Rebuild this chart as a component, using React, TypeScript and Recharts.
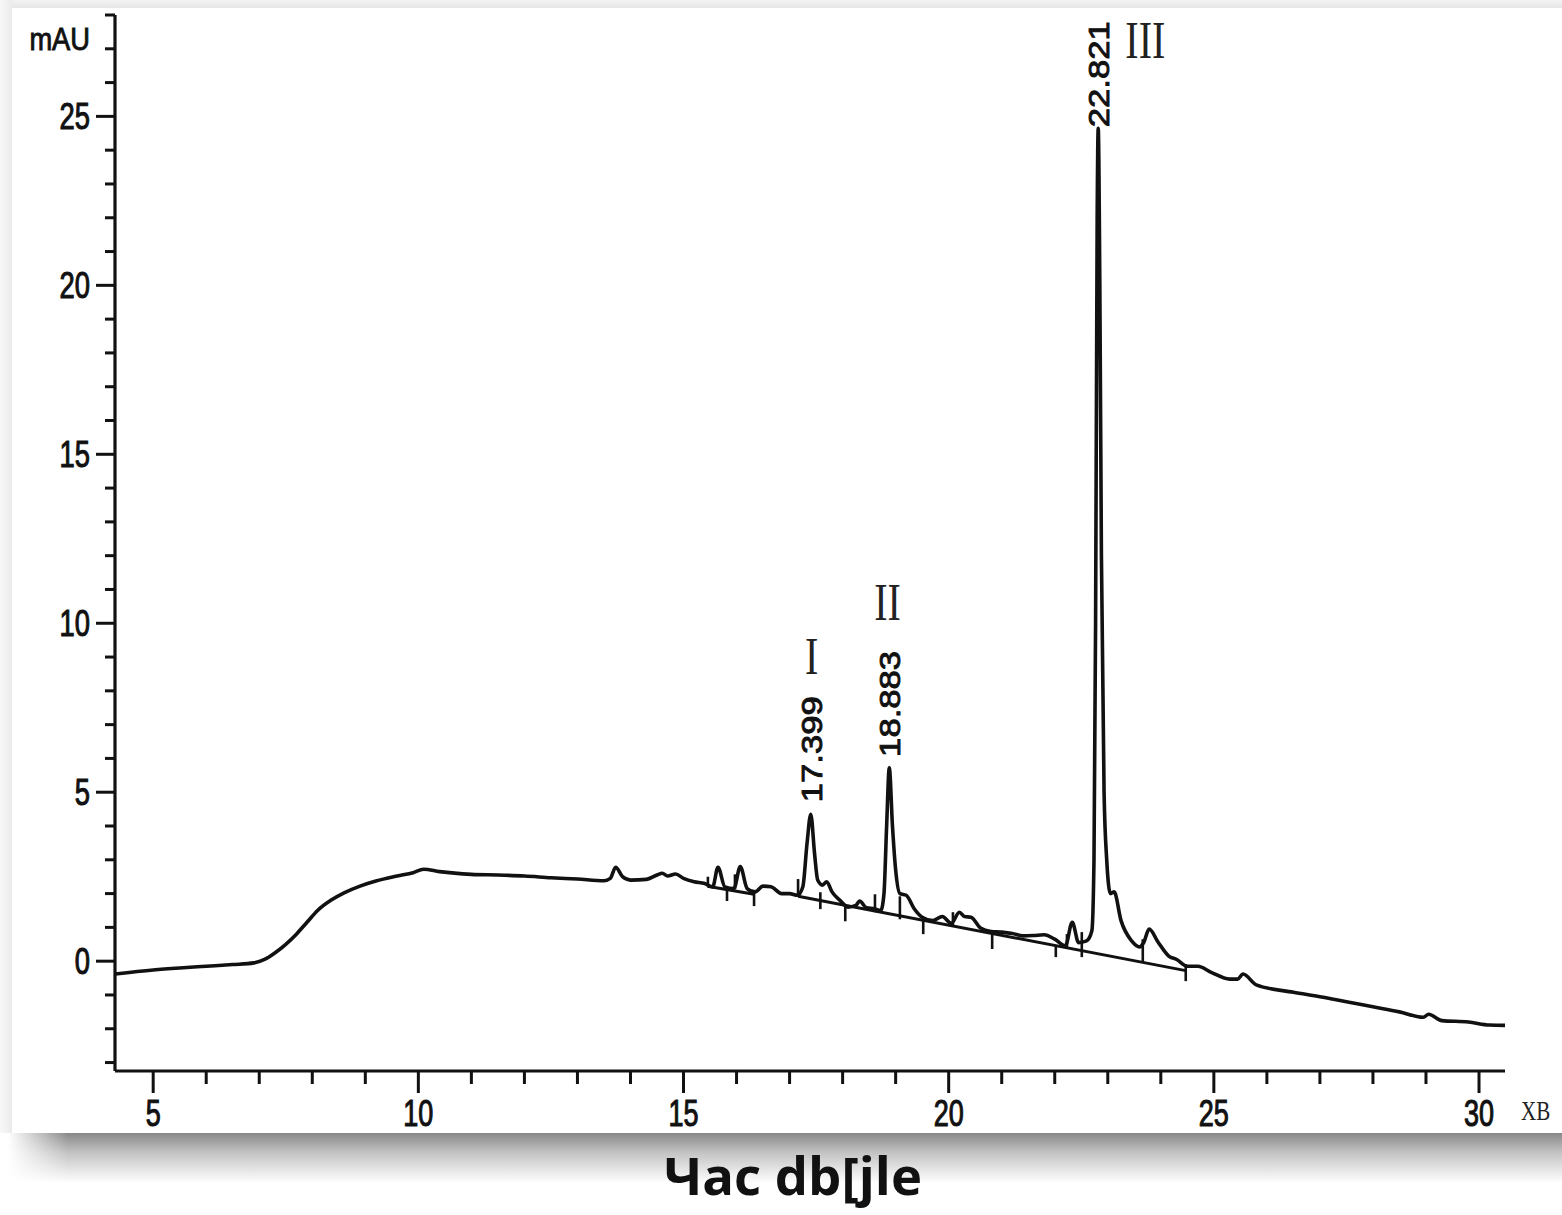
import React from 'react';
import { LineChart, Line, XAxis, YAxis, ReferenceLine, ReferenceDot } from 'recharts';

// Chromatogram trace: retention time (min) and absorbance (mAU)
const retention = [
  4.28, 5.0, 5.5, 6.0, 6.5, 6.9, 7.1, 7.3, 7.5, 7.7, 7.9, 8.1, 8.35, 8.6, 8.9, 9.2, 9.6, 9.9, 10.1, 10.4,
  11.0, 11.5, 12.0, 12.5, 13.0, 13.5, 13.62, 13.72, 13.85, 14.0, 14.3, 14.5, 14.6, 14.7, 14.85, 15.0, 15.2,
  15.4, 15.55, 15.65, 15.78, 15.95, 16.07, 16.2, 16.35, 16.5, 16.65, 16.85, 17.0, 17.15, 17.25, 17.33, 17.4,
  17.47, 17.53, 17.62, 17.7, 17.8, 17.95, 18.1, 18.25, 18.32, 18.45, 18.6, 18.72, 18.78, 18.83, 18.88, 18.94,
  19.0, 19.08, 19.2, 19.35, 19.5, 19.7, 19.88, 20.05, 20.2, 20.3, 20.42, 20.6, 20.8, 21.0, 21.2, 21.4, 21.6,
  21.8, 22.0, 22.2, 22.33, 22.45, 22.6, 22.7, 22.74, 22.77, 22.8, 22.82, 22.85, 22.88, 22.93, 22.98, 23.05,
  23.12, 23.25, 23.45, 23.6, 23.68, 23.78, 23.95, 24.15, 24.3, 24.5, 24.7, 24.95, 25.3, 25.45, 25.55, 25.8,
  26.5, 27.0, 27.5, 28.0, 28.5, 28.95, 29.05, 29.3, 29.8, 30.2, 30.49,
];
const absorbance = [
  -0.38, -0.26, -0.2, -0.15, -0.1, -0.05, 0.05, 0.25, 0.5, 0.8, 1.15, 1.5, 1.8, 2.02, 2.22, 2.37, 2.52, 2.62, 2.72, 2.65,
  2.57, 2.55, 2.52, 2.47, 2.43, 2.38, 2.45, 2.78, 2.5, 2.4, 2.42, 2.55, 2.6, 2.52, 2.58, 2.45, 2.35,
  2.3, 2.2, 2.78, 2.2, 2.15, 2.8, 2.15, 2.05, 2.22, 2.2, 2.0, 2.0, 1.95, 2.2, 3.5, 4.35,
  3.2, 2.4, 2.25, 2.35, 2.05, 1.8, 1.6, 1.65, 1.78, 1.58, 1.55, 1.5, 2.0, 4.0, 5.72, 4.0,
  2.7, 2.0, 1.95, 1.55, 1.3, 1.2, 1.32, 1.12, 1.45, 1.32, 1.3, 0.98, 0.88, 0.86, 0.82, 0.75, 0.76,
  0.78, 0.65, 0.45, 1.15, 0.55, 0.6, 0.9, 3.0, 10, 22, 24.65, 20, 12, 5, 3, 2.0,
  2.05, 1.2, 0.6, 0.42, 0.56, 0.95, 0.56, 0.15, 0.05, -0.15, -0.15, -0.33, -0.53, -0.53, -0.38, -0.7,
  -0.92, -1.05, -1.2, -1.35, -1.5, -1.66, -1.57, -1.76, -1.8, -1.89, -1.9,
];

// Integration baselines (start/end points)
const baselineA_t = [15.45, 16.33];
const baselineA_v = [2.22, 1.98];
const baselineB_t = [17.16, 24.47];
const baselineB_v = [1.92, -0.28];

// Peak start/end marks
const markerT = [15.46, 15.82, 15.97, 16.33, 17.16, 17.58, 18.05, 18.61, 19.08, 19.52, 20.08, 20.82, 22.02, 22.23, 22.51, 23.66, 24.47];
const markerTop = [2.5, 2.2, 2.57, 2.07, 2.43, 2.04, 1.6, 1.98, 1.92, 1.24, 1.45, 0.8, 0.44, 0.8, 0.86, 0.65, -0.09];
const markerBottom = [2.2, 1.78, 2.13, 1.63, 1.92, 1.54, 1.18, 1.45, 1.24, 0.8, 1.04, 0.36, 0.12, 0.41, 0.12, -0.03, -0.59];

// Labelled peaks
const peakRT = [17.399, 18.883, 22.821];
const peakHeight = [4.35, 5.72, 24.65];
const peakText = ['17.399', '18.883', '22.821'];
const peakRoman = ['I', 'II', 'III'];

// Axis ticks
const xTicks = [5, 6, 7, 8, 9, 10, 11, 12, 13, 14, 15, 16, 17, 18, 19, 20, 21, 22, 23, 24, 25, 26, 27, 28, 29, 30];
const yTicks = [-3, -2, -1, 0, 1, 2, 3, 4, 5, 6, 7, 8, 9, 10, 11, 12, 13, 14, 15, 16, 17, 18, 19, 20, 21, 22, 23, 24, 25, 26, 27, 28];
const yUnit = 'mAU';
const xUnit = 'XB';
const title = 'Час db[jle';

// Layout (pixel offsets) for peak annotations
const labelGap = [12, 11, 1];
const romanOffset = [
  { dx: 1, dy: -140 },
  { dx: -2, dy: -148 },
  { dx: 47, dy: -70 },
];

const INK = '#111';
const SANS = "'Liberation Sans', Arial, sans-serif";
const SERIF = "'Liberation Serif', 'Times New Roman', serif";

const traceData = retention.map((t, i) => ({ t, v: absorbance[i] }));
const baselineA = baselineA_t.map((t, i) => ({ t, v: baselineA_v[i] }));
const baselineB = baselineB_t.map((t, i) => ({ t, v: baselineB_v[i] }));

const XTick = (props: any) => {
  const { x, y, payload } = props;
  const v = payload.value;
  const major = v % 5 === 0;
  return (
    <g>
      <line x1={x} x2={x} y1={y} y2={y + (major ? 22 : 13)} stroke={INK} strokeWidth={3} />
      {major && (
        <text
          transform={`translate(${x},${y + 55}) scale(0.75,1)`}
          textAnchor="middle"
          fontSize={36}
          fontFamily={SANS}
          fill={INK}
          stroke={INK}
          strokeWidth={1.1}
        >
          {v}
        </text>
      )}
    </g>
  );
};

const YTick = (props: any) => {
  const { x, y, payload } = props;
  const v = payload.value;
  const major = v % 5 === 0;
  return (
    <g>
      <line x1={x - (major ? 19 : 10)} x2={x} y1={y} y2={y} stroke={INK} strokeWidth={3} />
      {major && (
        <text
          transform={`translate(${x - 25},${y + 13}) scale(0.74,1)`}
          textAnchor="end"
          fontSize={37}
          fontFamily={SANS}
          fill={INK}
          stroke={INK}
          strokeWidth={1.1}
        >
          {v}
        </text>
      )}
    </g>
  );
};

const makePeakShape = (i: number) => (props: any) => {
  const { cx, cy } = props;
  if (typeof cx !== 'number' || typeof cy !== 'number') return <g />;
  const ro = romanOffset[i];
  return (
    <g>
      <text
        transform={`translate(${cx + 11},${cy - labelGap[i]}) rotate(-90)`}
        fontSize={30}
        fontFamily={SANS}
        fill={INK}
        stroke={INK}
        strokeWidth={0.9}
        textLength={106}
        lengthAdjust="spacingAndGlyphs"
      >
        {peakText[i]}
      </text>
      <text
        transform={`translate(${cx + ro.dx},${cy + ro.dy}) scale(1,1.32)`}
        textAnchor="middle"
        fontSize={40}
        fontFamily={SERIF}
        fill="#222"
      >
        {peakRoman[i]}
      </text>
    </g>
  );
};

const YUnitLabel = (props: any) => {
  const vb = props.viewBox || {};
  const x = (vb.x ?? 0) + 90;
  const y = (vb.y ?? 15) + 35;
  return (
    <text
      transform={`translate(${x},${y}) scale(0.88,1)`}
      textAnchor="end"
      fontSize={31}
      fontFamily={SANS}
      fill={INK}
      stroke={INK}
      strokeWidth={0.9}
    >
      {yUnit}
    </text>
  );
};

const XUnitLabel = (props: any) => {
  const vb = props.viewBox || {};
  const x = (vb.x ?? 115) + (vb.width ?? 1390) + 16;
  const y = (vb.y ?? 1071) + 49;
  return (
    <text
      transform={`translate(${x},${y}) scale(1,1.25)`}
      textAnchor="start"
      fontSize={21}
      fontFamily={SERIF}
      fill="#222"
    >
      {xUnit}
    </text>
  );
};

export default function App() {
  return (
    <div style={{ position: 'absolute', left: 0, top: 0, width: 1562, height: 1215, background: '#fff', overflow: 'hidden' }}>
      <div style={{ position: 'absolute', left: 0, top: 0, width: 1562, height: 8, background: 'linear-gradient(#f3f3f3,#e6e6e6)' }} />
      <div style={{ position: 'absolute', left: 0, top: 0, width: 12, height: 1133, background: 'linear-gradient(to right,#f8f8f8,#ebebeb)' }} />
      <div
        style={{
          position: 'absolute',
          left: 8,
          top: 1133,
          width: 1554,
          height: 50,
          background: 'linear-gradient(#888, #c4c4c4 40%, rgba(255,255,255,0))',
          WebkitMaskImage: 'linear-gradient(to right, transparent 0px, black 60px)',
          maskImage: 'linear-gradient(to right, transparent 0px, black 60px)',
        }}
      />
      <div style={{ position: 'absolute', left: 0, top: 0 }}>
        <LineChart width={1562} height={1133} data={traceData} margin={{ top: 15, right: 57, left: 0, bottom: 0 }}>
          <XAxis
            dataKey="t"
            type="number"
            domain={[4.28, 30.49]}
            ticks={xTicks}
            interval={0}
            allowDataOverflow
            height={62}
            tickSize={0}
            tickMargin={0}
            tickLine={false}
            axisLine={{ stroke: INK, strokeWidth: 3.2 }}
            tick={<XTick />}
            label={{ content: <XUnitLabel /> } as any}
          />
          <YAxis
            type="number"
            domain={[-3.25, 28]}
            ticks={yTicks}
            interval={0}
            allowDataOverflow
            width={115}
            tickSize={0}
            tickMargin={0}
            tickLine={false}
            axisLine={{ stroke: INK, strokeWidth: 3.2 }}
            tick={<YTick />}
            label={{ content: <YUnitLabel /> } as any}
          />
          <Line
            data={baselineA}
            dataKey="v"
            type="linear"
            stroke={INK}
            strokeWidth={3}
            dot={false}
            isAnimationActive={false}
          />
          <Line
            data={baselineB}
            dataKey="v"
            type="linear"
            stroke={INK}
            strokeWidth={3}
            dot={false}
            isAnimationActive={false}
          />
          <Line
            dataKey="v"
            type="monotone"
            stroke={INK}
            strokeWidth={3.6}
            strokeLinejoin="round"
            dot={false}
            isAnimationActive={false}
          />
          {markerT.map((t, i) => (
            <ReferenceLine
              key={`m${i}`}
              segment={[
                { x: t, y: markerTop[i] },
                { x: t, y: markerBottom[i] },
              ]}
              stroke={INK}
              strokeWidth={2.6}
            />
          ))}
          {peakRT.map((t, i) => (
            <ReferenceDot key={`p${i}`} x={t} y={peakHeight[i]} r={1} shape={makePeakShape(i)} />
          ))}
        </LineChart>
      </div>
      <svg style={{ position: 'absolute', left: 0, top: 1133 }} width={1562} height={82}>
        <text
          x={793}
          y={62}
          textAnchor="middle"
          fontSize={52}
          fontWeight={700}
          fontFamily="'Open Sans', 'Noto Sans', sans-serif"
          fill="#111"
          textLength={258}
          lengthAdjust="spacingAndGlyphs"
        >
          {title}
        </text>
      </svg>
    </div>
  );
}
